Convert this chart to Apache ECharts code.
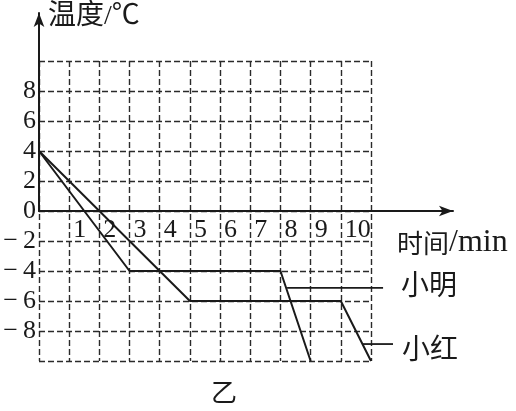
<!DOCTYPE html>
<html>
<head>
<meta charset="utf-8">
<script src="https://cdn.jsdelivr.net/npm/echarts@6/dist/echarts.min.js"></script>
<style>
  html, body { margin: 0; background: #fff; }
  #chart { width: 516px; height: 411px; }
</style>
</head>
<body>
<div id="chart"></div>
<script>
// 时间 (min) / 温度 (℃)
const xiaoMing = [[0, 4], [3, -4], [8, -4], [9, -10]];
const xiaoHong = [[0, 4], [5, -6], [10, -6], [11, -10]];
// 标注引线
const leaderMing = [[8.22, -5.13], [11.4, -5.13]];
const leaderHong = [[10.72, -8.87], [11.73, -8.87]];
const xTickLabels = ['1', '2', '3', '4', '5', '6', '7', '8', '9', '10'];
const yTickLabels = ['-8', '-6', '-4', '-2', '0', '2', '4', '6', '8'];

const serif = 'Liberation Serif, Noto Sans CJK SC';
const ink = '#1a1a1a';
const dash = { color: '#2a2a2a', width: 1.4, type: [6, 3] };
const unitX = 332 / 11;

const chart = echarts.init(document.getElementById('chart'));

chart.setOption({
  animation: false,
  backgroundColor: '#fff',
  grid: [
    // 虚线网格区域
    { left: 39, top: 61, width: 332, height: 300 },
    // 带箭头的坐标轴
    { left: 39, top: 13, width: 414, height: 198 },
    // 标注引线用（同比例，更宽）
    { left: 39, top: 61, width: unitX * 12, height: 300 }
  ],
  xAxis: [
    {
      gridIndex: 0, type: 'value', min: 0, max: 11, interval: 1,
      axisLine: { show: false }, axisTick: { show: false }, axisLabel: { show: false },
      splitLine: { show: true, lineStyle: dash }
    },
    {
      gridIndex: 1, type: 'value', min: 0, max: 414 / unitX, interval: 1,
      axisLine: { show: true, lineStyle: { color: ink, width: 2 }, symbol: ['none', 'arrow'], symbolSize: [8, 14] },
      axisTick: { show: false },
      splitLine: { show: false },
      axisLabel: {
        margin: 6, align: 'left', padding: [0, 0, 0, 4],
        fontFamily: serif, fontSize: 26, color: ink,
        formatter: v => xTickLabels.includes(String(v)) ? String(v) : ''
      },
      name: '{a|时间}{b|/min}', nameLocation: 'end', nameGap: -56,
      nameTextStyle: {
        color: ink, align: 'left', verticalAlign: 'top', padding: [16, 0, 0, 0],
        rich: {
          a: { fontFamily: 'Noto Sans CJK SC', fontSize: 26, color: ink },
          b: { fontFamily: 'Liberation Serif', fontSize: 32, color: ink }
        }
      }
    },
    {
      gridIndex: 2, type: 'value', min: 0, max: 12, show: false
    }
  ],
  yAxis: [
    {
      gridIndex: 0, type: 'value', min: -10, max: 10, interval: 2,
      axisLine: { show: false }, axisTick: { show: false },
      splitLine: { show: true, lineStyle: dash },
      axisLabel: {
        margin: 3, fontFamily: serif, fontSize: 26, color: ink,
        formatter: v => yTickLabels.includes(String(v)) ? String(v).replace('-', '\u2212\u2009') : ''
      }
    },
    {
      gridIndex: 1, type: 'value', min: 0, max: 13.2,
      axisLine: { show: true, lineStyle: { color: ink, width: 2 }, symbol: ['none', 'arrow'], symbolSize: [8, 14] },
      axisTick: { show: false }, axisLabel: { show: false }, splitLine: { show: false },
      name: '温度/℃', nameLocation: 'end', nameGap: -18,
      nameTextStyle: {
        fontFamily: serif, fontSize: 28, color: ink,
        align: 'left', verticalAlign: 'bottom', padding: [0, 0, 0, 9]
      }
    },
    {
      gridIndex: 2, type: 'value', min: -10, max: 10, show: false
    }
  ],
  series: [
    {
      name: '小明', type: 'line', data: xiaoMing, symbol: 'none',
      lineStyle: { color: ink, width: 2 }
    },
    {
      name: '小红', type: 'line', data: xiaoHong, symbol: 'none',
      lineStyle: { color: ink, width: 2 }
    },
    {
      type: 'line', xAxisIndex: 2, yAxisIndex: 2, data: leaderMing, symbol: 'none', silent: true,
      lineStyle: { color: ink, width: 1.8 },
      endLabel: { show: true, formatter: '小明', distance: 18, fontFamily: serif, fontSize: 28, color: ink }
    },
    {
      type: 'line', xAxisIndex: 2, yAxisIndex: 2, data: leaderHong, symbol: 'none', silent: true,
      lineStyle: { color: ink, width: 1.8 },
      endLabel: { show: true, formatter: '小红', distance: 9, offset: [0, 8], fontFamily: serif, fontSize: 28, color: ink }
    }
  ],
  graphic: [
    {
      type: 'text', left: 211, top: 382,
      style: { text: '乙', fontFamily: serif, fontSize: 26, fill: ink }
    }
  ]
});
</script>
</body>
</html>
